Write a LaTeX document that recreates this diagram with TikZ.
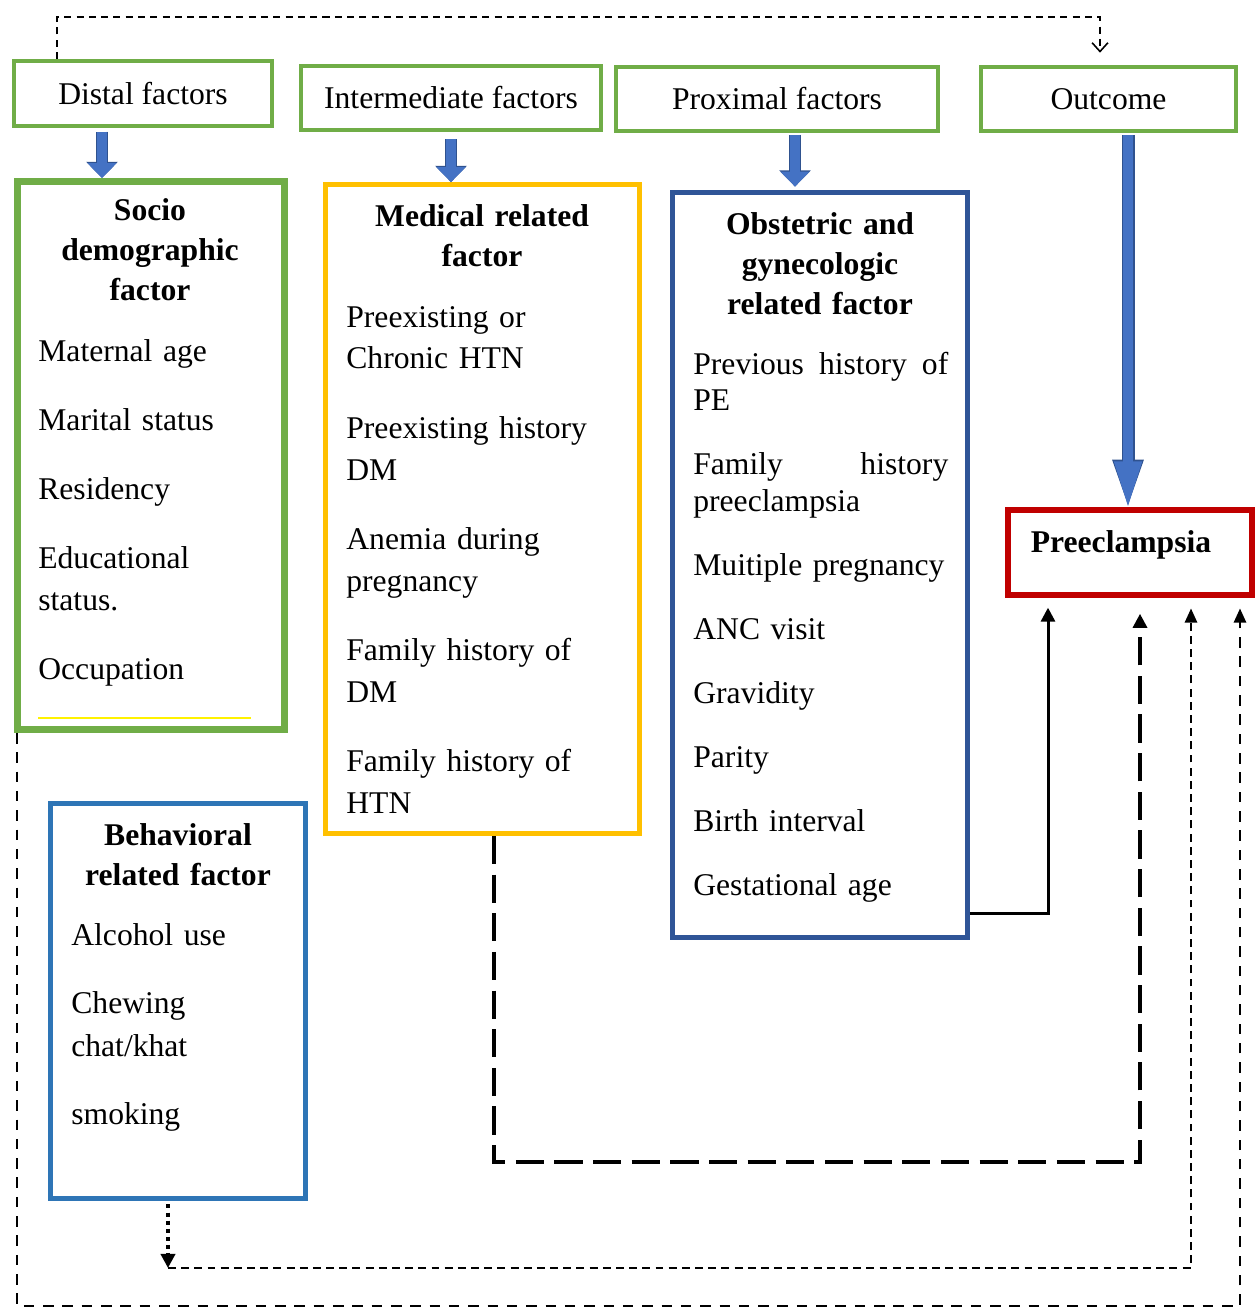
\documentclass[tikz,border=0pt]{standalone}
\usepackage{fontspec}
\setmainfont{Liberation Serif}
\usetikzlibrary{arrows.meta}

\definecolor{headgreen}{HTML}{70AD47}
\definecolor{medyellow}{HTML}{FFC000}
\definecolor{obsblue}{HTML}{2F5597}
\definecolor{behblue}{HTML}{2E75B6}
\definecolor{pered}{HTML}{C00000}
\definecolor{arrowfill}{HTML}{4472C4}
\definecolor{arrowedge}{HTML}{2F528F}

\begin{document}
\begin{tikzpicture}[x=0.02cm, y=-0.02cm,
        headbox/.style={draw=headgreen, line width=2.3pt, inner sep=0pt, minimum height=1.28cm, font=\fontsize{18}{22}\selectfont},
        factorbox/.style={line width=2.8pt, inner sep=0pt},
        boxtitle/.style={anchor=base, align=center, inner sep=0pt, text width=5.4cm, font=\fontsize{18}{22.8}\selectfont\bfseries},
        boxitems/.style={anchor=base west, align=left, inner sep=0pt, font=\fontsize{18}{23.9}\selectfont},
        blockarrow/.style={draw=arrowfill, line width=5.6pt, -{Triangle[length=8.5pt, width=16pt]},
            preaction={draw=arrowedge, line width=6.8pt, -{Triangle[length=9.2pt, width=17.4pt]}}},
        toplink/.style={line width=0.9pt, dash pattern=on 4pt off 3pt, -{Straight Barb[length=5pt, width=9pt]}},
        solidlink/.style={line width=1.7pt, -{Triangle[length=8pt, width=8pt]}},
        longdash/.style={line width=1.8pt, dash pattern=on 16pt off 6pt, -{Triangle[length=8pt, width=8pt]}},
        dotlink/.style={line width=2.3pt, dash pattern=on 2.3pt off 2.3pt, -{Triangle[length=8pt, width=8pt]}},
        thindash/.style={line width=1.1pt, dash pattern=on 4.5pt off 3pt, -{Triangle[length=8pt, width=7pt]}},
        outerdash/.style={line width=1.1pt, dash pattern=on 6pt off 5pt, -{Triangle[length=8pt, width=7pt]}}]

        \useasboundingbox (0,0) rectangle (1259,1309);

        % Nodes
        % heading row
        \node[headbox, minimum width=5.16cm, minimum height=1.3cm] at (143, 93.5)  (distal)       {Distal factors};
        \node[headbox, minimum width=6.0cm]  at (451, 98)    (intermediate) {Intermediate factors};
        \node[headbox, minimum width=6.44cm] at (777, 99)    (proximal)     {Proximal factors};
        \node[headbox, minimum width=5.1cm]  at (1108.5, 99) (outcome)      {Outcome};

        % factor boxes
        \node[factorbox, draw=headgreen, line width=4pt, minimum width=5.34cm, minimum height=10.96cm] at (151, 455.5) (socio) {};
        \node[factorbox, draw=medyellow, minimum width=6.28cm, minimum height=12.98cm] at (482.5, 509) (medical) {};
        \node[factorbox, draw=obsblue, minimum width=5.9cm, minimum height=14.9cm] at (820, 565) (obstetric) {};
        \node[factorbox, draw=behblue, minimum width=5.1cm, minimum height=7.9cm] at (178, 1001) (behavioral) {};
        \node[factorbox, draw=pered, line width=3.4pt, minimum width=4.88cm, minimum height=1.7cm, text height=12pt, text depth=12pt,
            font=\fontsize{18}{22}\selectfont\bfseries] at (1130, 552.5) (pe) {Preeclampsia\hspace*{0.36cm}};

        % titles
        \node[boxtitle] at (150, 220) (socio title)      {Socio\\demographic\\factor};
        \node[boxtitle] at (482, 226) (medical title)    {Medical related\\factor};
        \node[boxtitle] at (820, 234) (obstetric title)  {Obstetric and\\gynecologic\\related factor};
        \node[boxtitle] at (178, 845) (behavioral title) {Behavioral\\related factor};

        % items
        \node[boxitems, text width=5cm] at (38, 361) (socio items)
            {Maternal age\\[15.4pt]Marital status\\[15.4pt]Residency\\[15.4pt]Educational\\status.\\[15.4pt]Occupation};
        \node[boxitems, text width=5.6cm] at (346, 327) (medical items)
            {Preexisting or\\Chronic HTN\\[15.4pt]Preexisting history\\DM\\[15.4pt]Anemia during\\pregnancy\\[15.4pt]Family history of\\DM\\[15.4pt]Family history of\\HTN};
        \node[boxitems, text width=5.1cm, font=\fontsize{18}{21}\selectfont] at (693, 374) (obstetric items)
            {Previous\hfill history\hfill of\\PE\\[15.4pt]Family\hfill history\\preeclampsia\\[15.4pt]Muitiple pregnancy\\[15.4pt]ANC visit\\[15.4pt]Gravidity\\[15.4pt]Parity\\[15.4pt]Birth interval\\[15.4pt]Gestational age};
        \node[boxitems, text width=4.5cm, font=\fontsize{18}{25}\selectfont] at (71, 945) (behavioral items)
            {Alcohol use\\[13.7pt]Chewing\\chat/khat\\[13.7pt]smoking};

        \draw[yellow, line width=0.8pt] (38, 718) -- (251, 718);

        % corners of the links
        \coordinate (top left)  at (57, 17);
        \coordinate (top right) at (1100, 17);
        \coordinate (distal arrow)       at (102, 0);
        \coordinate (intermediate arrow) at (451, 0);
        \coordinate (proximal arrow)     at (795, 0);
        \coordinate (outcome arrow)      at (1128, 0);
        \coordinate (obs knee)  at (1048, 913);
        \coordinate (med knee)  at (494, 1162);
        \coordinate (med turn)  at (1140, 1162);
        \coordinate (beh knee)  at (168, 1268);
        \coordinate (beh turn)  at (1191, 1268);
        \coordinate (out knee)  at (17, 1306);
        \coordinate (out turn)  at (1240, 1306);

        \draw[blockarrow, shorten <=2pt]   (distal.south -| distal arrow) -- (socio.north -| distal arrow);
        \draw[blockarrow, shorten <=4pt]   (intermediate.south -| intermediate arrow) -- (medical.north -| intermediate arrow);
        \draw[blockarrow, shorten <=1pt, shorten >=2pt] (proximal.south -| proximal arrow) -- (obstetric.north -| proximal arrow);
        \draw[draw=arrowfill, line width=6.2pt, -{Triangle[length=28pt, width=14pt]},
            preaction={draw=arrowedge, line width=7.4pt, -{Triangle[length=29pt, width=15.4pt]}}, shorten <=1pt, shorten >=-2pt]
            (outcome.south -| outcome arrow) -- (pe.north -| outcome arrow);

        \draw[toplink, shorten >=7pt] (distal.north -| top left) -- (top left) -- (top right) -- (outcome.north -| top right);
        \draw[solidlink, shorten >=5.5pt] (obstetric.east |- obs knee) -- (obs knee) -- (pe.south -| obs knee);
        \draw[longdash, shorten >=9pt] (medical.south -| med knee) -- (med knee) -- (med turn) -- (pe.south -| med turn);
        \draw[dotlink, shorten <=2pt] (behavioral.south -| beh knee) -- (beh knee);
        \draw[thindash, shorten >=6pt] (beh knee) -- (beh turn) -- (pe.south -| beh turn);
        \draw[outerdash, shorten >=6pt] (socio.south -| out knee) -- (out knee) -- (out turn) -- (pe.south -| out turn);

    \end{tikzpicture}
\end{document}
